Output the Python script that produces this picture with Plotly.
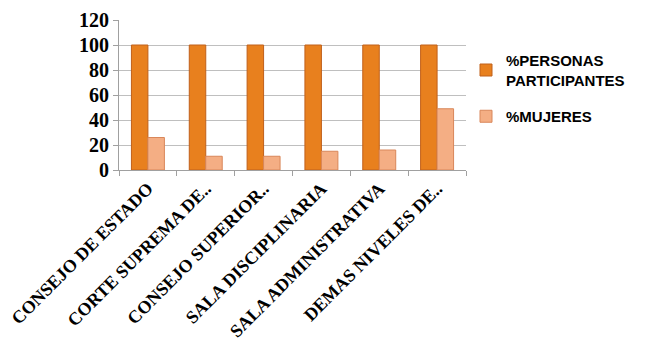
import plotly.graph_objects as go

categories = ["CONSEJO DE ESTADO", "CORTE SUPREMA DE..", "CONSEJO SUPERIOR..",
              "SALA DISCIPLINARIA", "SALA ADMINISTRATIVA", "DEMAS NIVELES DE.."]
personas = [100, 100, 100, 100, 100, 100]
mujeres = [26, 11, 11, 15, 16, 49]
series_names = ["%PERSONAS<br>PARTICIPANTES", "%MUJERES"]
y_ticks = [0, 20, 40, 60, 80, 100, 120]

fig = go.Figure()
fig.add_trace(go.Bar(x=categories, y=personas, name="<b>" + series_names[0].replace("<br>", "</b><br><b>") + "</b>",
                     legendgroup="a",
                     marker=dict(color="#E8801E", line=dict(color="#C0601A", width=1))))
fig.add_trace(go.Bar(x=categories, y=mujeres, name="<b>" + series_names[1] + "</b>", legendgroup="b",
                     marker=dict(color="#F4AE84", line=dict(color="#D9875A", width=1))))

fig.update_layout(
    width=657, height=349,
    margin=dict(l=119, r=191, t=20, b=179),
    paper_bgcolor="white", plot_bgcolor="white",
    barmode="group", bargap=0.43, bargroupgap=0,
    showlegend=True,
    legend=dict(x=1.0, y=0.84, xanchor="left", yanchor="top",
                font=dict(family="Liberation Sans", size=15, color="black"),
                itemwidth=30, tracegroupgap=14, bgcolor="rgba(0,0,0,0)"),
    font=dict(family="Liberation Serif", color="black"),
)
fig.update_xaxes(
    automargin=False,
    tickangle=-45, tickfont=dict(family="Liberation Serif", size=18, color="black", weight="bold"),
    showline=True, linecolor="#A0A0A0", linewidth=1,
    ticks="outside", tickson="boundaries", ticklen=5, tickcolor="#A0A0A0",
    showgrid=False,
)
fig.update_yaxes(
    automargin=False,
    range=[0, 120], tickvals=y_ticks,
    tickfont=dict(family="Liberation Serif", size=20, color="black", weight="bold"),
    showline=True, linecolor="#A0A0A0", linewidth=1,
    ticks="outside", ticklen=5, tickcolor="#A0A0A0",
    showgrid=True, gridcolor="#BFBFBF", gridwidth=1, zeroline=False,
)
fig.write_html("out.html")
